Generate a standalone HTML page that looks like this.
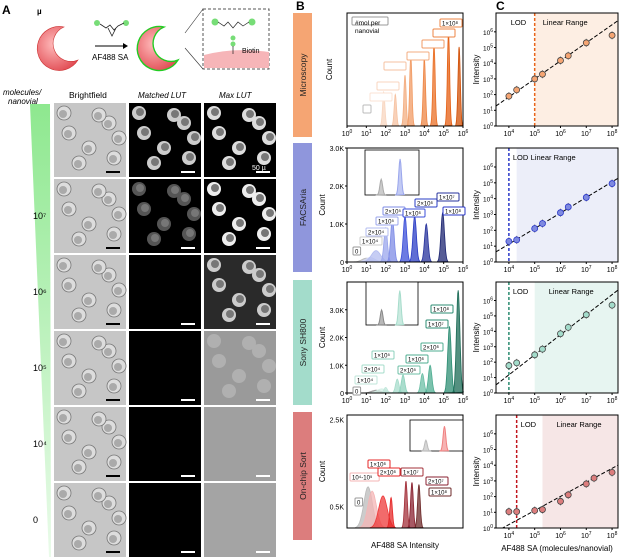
<!DOCTYPE html>
<html><head><meta charset="utf-8"><style>
body{margin:0;background:#fff}
svg{display:block;font-family:"Liberation Sans",Arial,sans-serif}
</style></head><body>
<svg id="fig" width="625" height="557" viewBox="0 0 625 557">
<defs id="defs">
<linearGradient id="wedge" x1="0" y1="0" x2="0" y2="1"><stop offset="0" stop-color="#8ee88f"/><stop offset="1" stop-color="#eafbea"/></linearGradient>
<radialGradient id="nano" cx="0.4" cy="0.4" r="0.7"><stop offset="0" stop-color="#fbb"/><stop offset="1" stop-color="#e0474f"/></radialGradient>
</defs>
<g id="panelA">
<text x="2" y="14" font-size="12" font-weight="bold">A</text>
<text x="37" y="14" font-size="8" font-weight="bold">µ</text>
<path d="M64,27 a22,22 0 1,0 14,33 a14,14 0 1,1 -14,-33z" fill="url(#nano)" stroke="#c33" stroke-width="0.6"/>
<circle cx="97" cy="23" r="3" fill="#7d7"/><circle cx="126" cy="23" r="3" fill="#7d7"/>
<path d="M100,24 l6,4 l4,-3 l4,5 l4,-4 l6,-3 M108,28 l4,8 l4,-8" stroke="#222" fill="none" stroke-width="0.8"/>
<line x1="95" y1="46" x2="123" y2="46" stroke="#000"/><path d="M123,43 l5,3 l-5,3z"/>
<text x="92" y="60" font-size="8">AF488 SA</text>
<path d="M164,27 a22,22 0 1,0 14,33 a14,14 0 1,1 -14,-33z" fill="url(#nano)" stroke="#2c2" stroke-width="1.4"/>
<rect x="203" y="9" width="66" height="60" fill="#fff" stroke="#555" stroke-dasharray="3,2"/>
<path d="M204,55 q30,-8 65,-3 v16 h-65z" fill="#f6b5b8"/>
<line x1="185" y1="33" x2="203" y2="9" stroke="#333" stroke-width="0.6"/><line x1="185" y1="48" x2="203" y2="69" stroke="#333" stroke-width="0.6"/>
<circle cx="215" cy="22" r="3.5" fill="#7d7"/><circle cx="252" cy="22" r="3.5" fill="#7d7"/><circle cx="233" cy="38" r="2.5" fill="#7d7"/><circle cx="233" cy="44" r="2.5" fill="#7d7"/>
<path d="M218,22 l6,4 l4,-4 l5,6 l5,-6 l5,4 l6,-4 M233,46 v8" stroke="#222" fill="none" stroke-width="0.7"/>
<text x="242" y="53" font-size="7">Biotin</text>
<text x="3" y="95" font-size="8" font-style="italic">molecules/</text>
<text x="8" y="104" font-size="8" font-style="italic">nanovial</text>
<text x="69" y="98" font-size="8.5">Brightfield</text>
<text x="138" y="98" font-size="8" font-style="italic">Matched LUT</text>
<text x="219" y="98" font-size="8" font-style="italic">Max LUT</text>
<polygon points="30,104 50,104 51,557 49,557" fill="url(#wedge)"/>
<g id="imgs"></g>
</g>
<g id="plots"></g>
</svg>
<script>
// ===== data arrays =====
const rowLabels = ["", "10⁷", "10⁶", "10⁵", "10⁴", "0"];
const cTicks = [4,5,6,7,8];
const cYTicks = [0,1,2,3,4,5,6];
const bTicks = [0,1,2,3,4,5,6];
const micX = [1e4,2e4,1e5,2e5,1e6,2e6,1e7,1e8];
const micY = [80,200,1000,2000,15000,30000,200000,600000];
const facsX = [1e4,2e4,1e5,2e5,1e6,2e6,1e7,1e8];
const facsY = [20,25,130,270,1300,3000,12000,90000];
const sonyX = [1e4,2e4,1e5,2e5,1e6,2e6,1e7,1e8];
const sonyY = [60,90,300,700,7000,18000,120000,500000];
const chipX = [1e4,2e4,1e5,2e5,1e6,2e6,1e7,2e7,1e8];
const chipY = [11,11,13,15,50,130,650,1500,3500];
// histogram peaks: log10 centre, height, log width
const micC = [1.9,2.5,3.0,3.3,4.0,4.5,5.25,5.8];
const micH = [0.30,0.28,0.45,0.62,0.60,0.72,0.82,0.70];
const facsC = [1.0,1.2,1.5,2.0,2.35,3.0,3.5,4.1,4.95];
const facsH = [0.1,0.12,0.3,0.9,1.15,1.2,1.2,1.0,1.3];
const sonyC = [1.5,1.8,2.0,2.6,2.9,3.9,4.3,5.3,5.75];
const sonyH = [0.1,0.15,0.2,0.5,0.65,0.7,1.0,2.4,3.7];
const chipC = [1.09,1.3,1.86,2.28,3.05,3.36,3.72];
const chipH = [0.95,0.85,0.74,0.70,1.08,1.05,1.0];

const NS="http://www.w3.org/2000/svg";
function mk(tag,attrs,parent,txt){const e=document.createElementNS(NS,tag);for(const k in attrs)e.setAttribute(k,attrs[k]);if(txt!==undefined)e.textContent=txt;parent.appendChild(e);return e;}
const root=document.getElementById('plots');
const imgs=document.getElementById('imgs');
const defs=document.getElementById('defs');

// ===== Panel A images =====
const colX=[54,129,204], rowY=[103,179,255,331,407,483];
const circ=[[15,30],[35,45],[55,20],[25,60],[60,55],[45,12],[10,10],[65,35]];
const maxBg=["#000","#000","#2a2a2a","#9a9a9a","#a0a0a0","#a4a4a4"];
const maxFg=["#ddd","#eee","#ccc","#b0b0b0","#a0a0a0","#a4a4a4"];
const matFg=["#ccc","#555","#000","#000","#000","#000"];
rowY.forEach((y,r)=>{
  for(let c=0;c<3;c++){
    const x=colX[c];
    const g=mk('g',{},imgs);
    
    
    const bg=c==0?"#c6c6c6":c==1?"#000":maxBg[r];
    mk('rect',{x:x,y:y,width:72,height:74,fill:bg},g);
    const fg=c==0?"#e8e8e8":c==1?matFg[r]:maxFg[r];
    circ.forEach(([cx,cy])=>{
      if(c==0){mk('circle',{cx:x+cx,cy:y+cy,r:7,fill:"#ddd",stroke:"#777","stroke-width":0.8},g);mk('circle',{cx:x+cx-1,cy:y+cy+1,r:4,fill:"#aaa"},g);}
      else if(fg!==bg){mk('circle',{cx:x+cx,cy:y+cy,r:7,fill:fg},g);mk('circle',{cx:x+cx+1,cy:y+cy-1,r:4,fill:c==2&&r>=3?fg:"#777"},g);}
    });
    mk('rect',{x:x+52,y:y+68,width:14,height:2,fill:c==0?"#000":"#fff"},g);
  }
  if(rowLabels[r]){const t=mk('text',{x:33,y:y+40,"font-size":9},imgs,rowLabels[r]);
    
    }
});
const sb=mk('text',{x:252,y:170,"font-size":7,fill:"#fff"},imgs,"50 µ");



// ===== Panel B / C =====
mk('text',{x:296,y:10,"font-size":12,"font-weight":"bold"},root,"B");
mk('text',{x:496,y:10,"font-size":12,"font-weight":"bold"},root,"C");
const rows=[
 {name:"Microscopy",col:"#f5a573",top:13,bot:126,bar:[13,137],shade:"#fdeee3",dark:"#e8641a",pal:["#f8d5bf","#f6c2a1","#f3ad80","#f19b64","#ee8544","#ea6f25","#e55e11","#d24f05"],cx:micX,cy:micY,C:micC,H:micH,ymax:1,lod:1e5,lin:1e5,yt:null},
 {name:"FACSAria",col:"#8f96dc",top:148,bot:262,bar:[143,272],shade:"#eceef9",dark:"#2a37c9",pal:["#bbb","#d0d6f5","#b3bcf0","#9aa6ec","#7d8be6","#3b4fd8","#2a3cc5","#27339c","#1d2672"],cx:facsX,cy:facsY,C:facsC,H:facsH,ymax:3,lod:1e4,lin:2e4,yt:["0","1.0K","2.0K","3.0K"]},
 {name:"Sony SH800",col:"#a3dccb",top:282,bot:393,bar:[280,405],shade:"#e7f5f1",dark:"#2a8a70",pal:["#999","#d4efe6","#bfe6da","#a6dccb","#8dd1bc","#6cbfa6","#4fae92","#2d8d73","#1b6b56"],cx:sonyX,cy:sonyY,C:sonyC,H:sonyH,ymax:4.0,lod:1e4,lin:1e5,yt:["0","1.0K","2.0K","3.0K"]},
 {name:"On-chip Sort",col:"#dc7d7d",top:415,bot:528,bar:[412,540],shade:"#f6e6e6",dark:"#c0141c",pal:["#bbb","#f4b5b5","#ee3a3a","#e62727","#a3303a","#8a2230","#6e2a2a"],cx:chipX,cy:chipY,C:chipC,H:chipH,ymax:2.6,lod:2e4,lin:2e5,yt:null}
];
const bx0=347,bx1=463,cx0=496,cx1=618;
const sbx=v=>bx0+(v)/6*(bx1-bx0);
const scx=v=>cx0+(Math.log10(v)-3.5)/(8.23-3.5)*(cx1-cx0);
function sup(g,x,y,base,exp,anchor,fs){const t=mk('text',{x:x,y:y,"font-size":fs||7,"text-anchor":anchor||"middle"},g);mk('tspan',{},t,base);mk('tspan',{dy:-3,"font-size":5},t,exp);return t;}
rows.forEach((R,i)=>{
  const g=mk('g',{},root);
  
  
  const bar=mk('rect',{x:293,y:R.bar[0],width:19,height:R.bar[1]-R.bar[0],fill:R.col},g);
  
  
  const mid=(R.bar[0]+R.bar[1])/2;
  mk('text',{x:0,y:0,"font-size":8.5,"text-anchor":"middle",transform:`translate(306,${mid}) rotate(-90)`,fill:"#222"},g,R.name);
  // B histogram
  const sby=v=>R.bot-v/R.ymax*(R.bot-R.top);
  mk('text',{x:0,y:0,"font-size":8,"text-anchor":"middle",transform:`translate(${i==0?332:325},${(R.top+R.bot)/2}) rotate(-90)`},g,"Count");
  R.C.forEach((c,k)=>{
    const w=i==0?0.06:(i==3?0.07:0.09)+(c<2?0.15:0);
    let d=`M${sbx(c-3*w)},${sby(0)}`;
    for(let t=-3;t<=3.001;t+=0.25)d+=` L${sbx(c+t*w).toFixed(1)},${sby(R.H[k]*Math.exp(-t*t/2)).toFixed(1)}`;
    const p=mk('path',{d:d+"Z",fill:R.pal[k]||R.dark,"fill-opacity":0.75,stroke:R.pal[k]||R.dark,"stroke-width":0.8},g);
    
    
  });
  const fr=mk('rect',{x:bx0,y:R.top,width:bx1-bx0,height:R.bot-R.top,fill:"none",stroke:"#000","stroke-width":1},g);
  
  
  if(i<3){bTicks.forEach(t=>{mk('line',{x1:sbx(t),x2:sbx(t),y1:R.bot,y2:R.bot+2,stroke:"#000"},g);sup(g,sbx(t),R.bot+10,"10",t);});}
  if(R.yt){R.yt.forEach((s,k)=>{const yy=sby(k);mk('line',{x1:bx0-2,x2:bx0,y1:yy,y2:yy,stroke:"#000"},g);mk('text',{x:bx0-3,y:yy+3,"font-size":7,"text-anchor":"end"},g,s);});}
  else if(i==3){[["2.5K",2.5],["0.5K",0.5]].forEach(([s,v])=>{mk('text',{x:bx0-3,y:sby(v)+3,"font-size":7,"text-anchor":"end"},g,s);});}
  // C scatter
  const scy=v=>R.bot-(Math.log10(v))/7.2*(R.bot-R.top);
  const cp=mk('clipPath',{id:'clipC'+i},defs);
  mk('rect',{x:cx0,y:R.top,width:cx1-cx0,height:R.bot-R.top},cp);
  mk('rect',{x:scx(R.lin),y:R.top,width:cx1-scx(R.lin),height:R.bot-R.top,fill:R.shade},g);
  const lod=mk('line',{x1:scx(R.lod),x2:scx(R.lod),y1:R.top,y2:R.bot,stroke:R.dark,"stroke-width":1.5,"stroke-dasharray":"3,2"},g);
  
  
  const a=R.cx.length-2;
  const fitK=Math.log10(R.cy[a]/R.cy[2])/Math.log10(R.cx[a]/R.cx[2]);
  const fy=x=>Math.log10(R.cy[2])+fitK*(Math.log10(x)-Math.log10(R.cx[2]));
  const xs=Math.pow(10,3.5),xe=Math.pow(10,8.23);
  const fl=mk('line',{x1:scx(xs),y1:scy(Math.pow(10,fy(xs))),x2:scx(xe),y2:scy(Math.pow(10,fy(xe))),stroke:"#000","stroke-dasharray":"4,2","stroke-width":1,"clip-path":`url(#clipC${i})`},g);
  
  
  R.cx.forEach((x,k)=>{
    const px=scx(x),py=scy(R.cy[k]);
    mk('line',{x1:px,x2:px,y1:py-4,y2:py+4,stroke:"#777"},g);
    const c=mk('circle',{cx:px,cy:py,r:3,fill:i==1?"#7f8ae0":R.col,stroke:i==1?"#2a37c9":"#444","stroke-width":0.8},g);
    
    
  });
  mk('rect',{x:cx0,y:R.top,width:cx1-cx0,height:R.bot-R.top,fill:"none",stroke:"#000"},g);
  cYTicks.forEach(t=>{const yy=scy(Math.pow(10,t));mk('line',{x1:cx0-2,x2:cx0,y1:yy,y2:yy,stroke:"#000"},g);sup(g,cx0-3,yy+3,"10",t,"end",6.5);});
  cTicks.forEach(t=>{const xx=scx(Math.pow(10,t));mk('line',{x1:xx,x2:xx,y1:R.bot,y2:R.bot+2,stroke:"#000"},g);sup(g,xx,R.bot+10,"10",t);});
  mk('text',{x:0,y:0,"font-size":8,"text-anchor":"middle",transform:`translate(479,${(R.top+R.bot)/2}) rotate(-90)`},g,"Intensity");
  mk('text',{x:i==0?scx(R.lod)-24:scx(R.lod)+4,y:R.top+12,"font-size":7.5},g,"LOD");
  mk('text',{x:scx(R.lin)+(i==0?8:14),y:R.top+12,"font-size":7.5},g,"Linear Range");
});
function box(x,y,t,col,w){const g=mk('g',{},root);
  mk('rect',{x:x,y:y,width:w||(t.length*3.6+4),height:8,fill:"#fff",stroke:col,"stroke-width":1,rx:1},g);
  if(t)mk('text',{x:x+2,y:y+6.3,"font-size":6},g,t);}
box(352,17,"",'#999',36);mk('text',{x:355,y:25,"font-size":6.5},root,"#mol per");mk('text',{x:355,y:33,"font-size":6.5},root,"nanovial");
[[433,29],[422,40],[407,52],[384,62],[377,82],[370,93]].forEach(([x,y],k)=>box(x,y,"",["#ee8544","#f19b64","#f3ad80","#f6c2a1","#f8d5bf","#fbe3d4"][k],22));
box(363,105,"","#bbb",8);box(440,19,"1×10⁸","#ee8544");
[[353,247,"0","#999"],[360,237,"1×10⁴","#ccc"],[366,228,"2×10⁴","#b3bcf0"],[376,217,"1×10⁵","#9aa6ec"],[383,207,"2×10⁵","#7d8be6"],[403,209,"1×10⁶","#3b4fd8"],[415,199,"2×10⁶","#2a3cc5"],[437,193,"1×10⁷","#27339c"],[443,207,"1×10⁸","#2a37c9"],
 [353,387,"0","#999"],[355,376,"1×10⁴","#bfe6da"],[362,365,"2×10⁴","#a6dccb"],[372,351,"1×10⁵","#8dd1bc"],[398,366,"2×10⁵","#6cbfa6"],[406,355,"1×10⁶","#4fae92"],[421,343,"2×10⁶","#4fae92"],[426,320,"1×10⁷","#2d8d73"],[431,305,"1×10⁸","#2d8d73"],
 [355,498,"0","#999"],[350,473,"10⁴-10⁵","#f4b5b5"],[368,460,"1×10⁶","#e62727"],[378,468,"2×10⁶","#e62727"],[401,468,"1×10⁷","#a3303a"],[426,477,"2×10⁷","#8a2230"],[429,488,"1×10⁸","#6e2a2a"]
].forEach(a=>box(a[0],a[1],a[2],a[3]));
[[365,150,54,45],[366,282,52,43],[410,420,53,31]].forEach(([x,y,w,h],k)=>{
  const g=mk('g',{},root);
  mk('rect',{x:x,y:y,width:w,height:h,fill:"#fff",stroke:"#000","stroke-width":0.8},g);
  const cols=[["#aaa","#9aa6ec"],["#888","#a6dccb"],["#bbb","#f08080"]][k];
  [[0.3,0.35],[0.65,0.8]].forEach(([c,hh],j)=>{let d=`M${x+w*(c-0.08)},${y+h}`;for(let t=-3;t<=3;t+=0.5)d+=` L${x+w*(c+t*0.025)},${y+h-hh*h*Math.exp(-t*t/2)}`;mk('path',{d:d+"Z",fill:cols[j],"fill-opacity":0.6,stroke:cols[j]},g);});
});
mk('text',{x:405,y:548,"font-size":8,"text-anchor":"middle"},root,"AF488 SA Intensity");
mk('text',{x:557,y:551,"font-size":8,"text-anchor":"middle"},root,"AF488 SA (molecules/nanovial)");
</script>
</body></html>
